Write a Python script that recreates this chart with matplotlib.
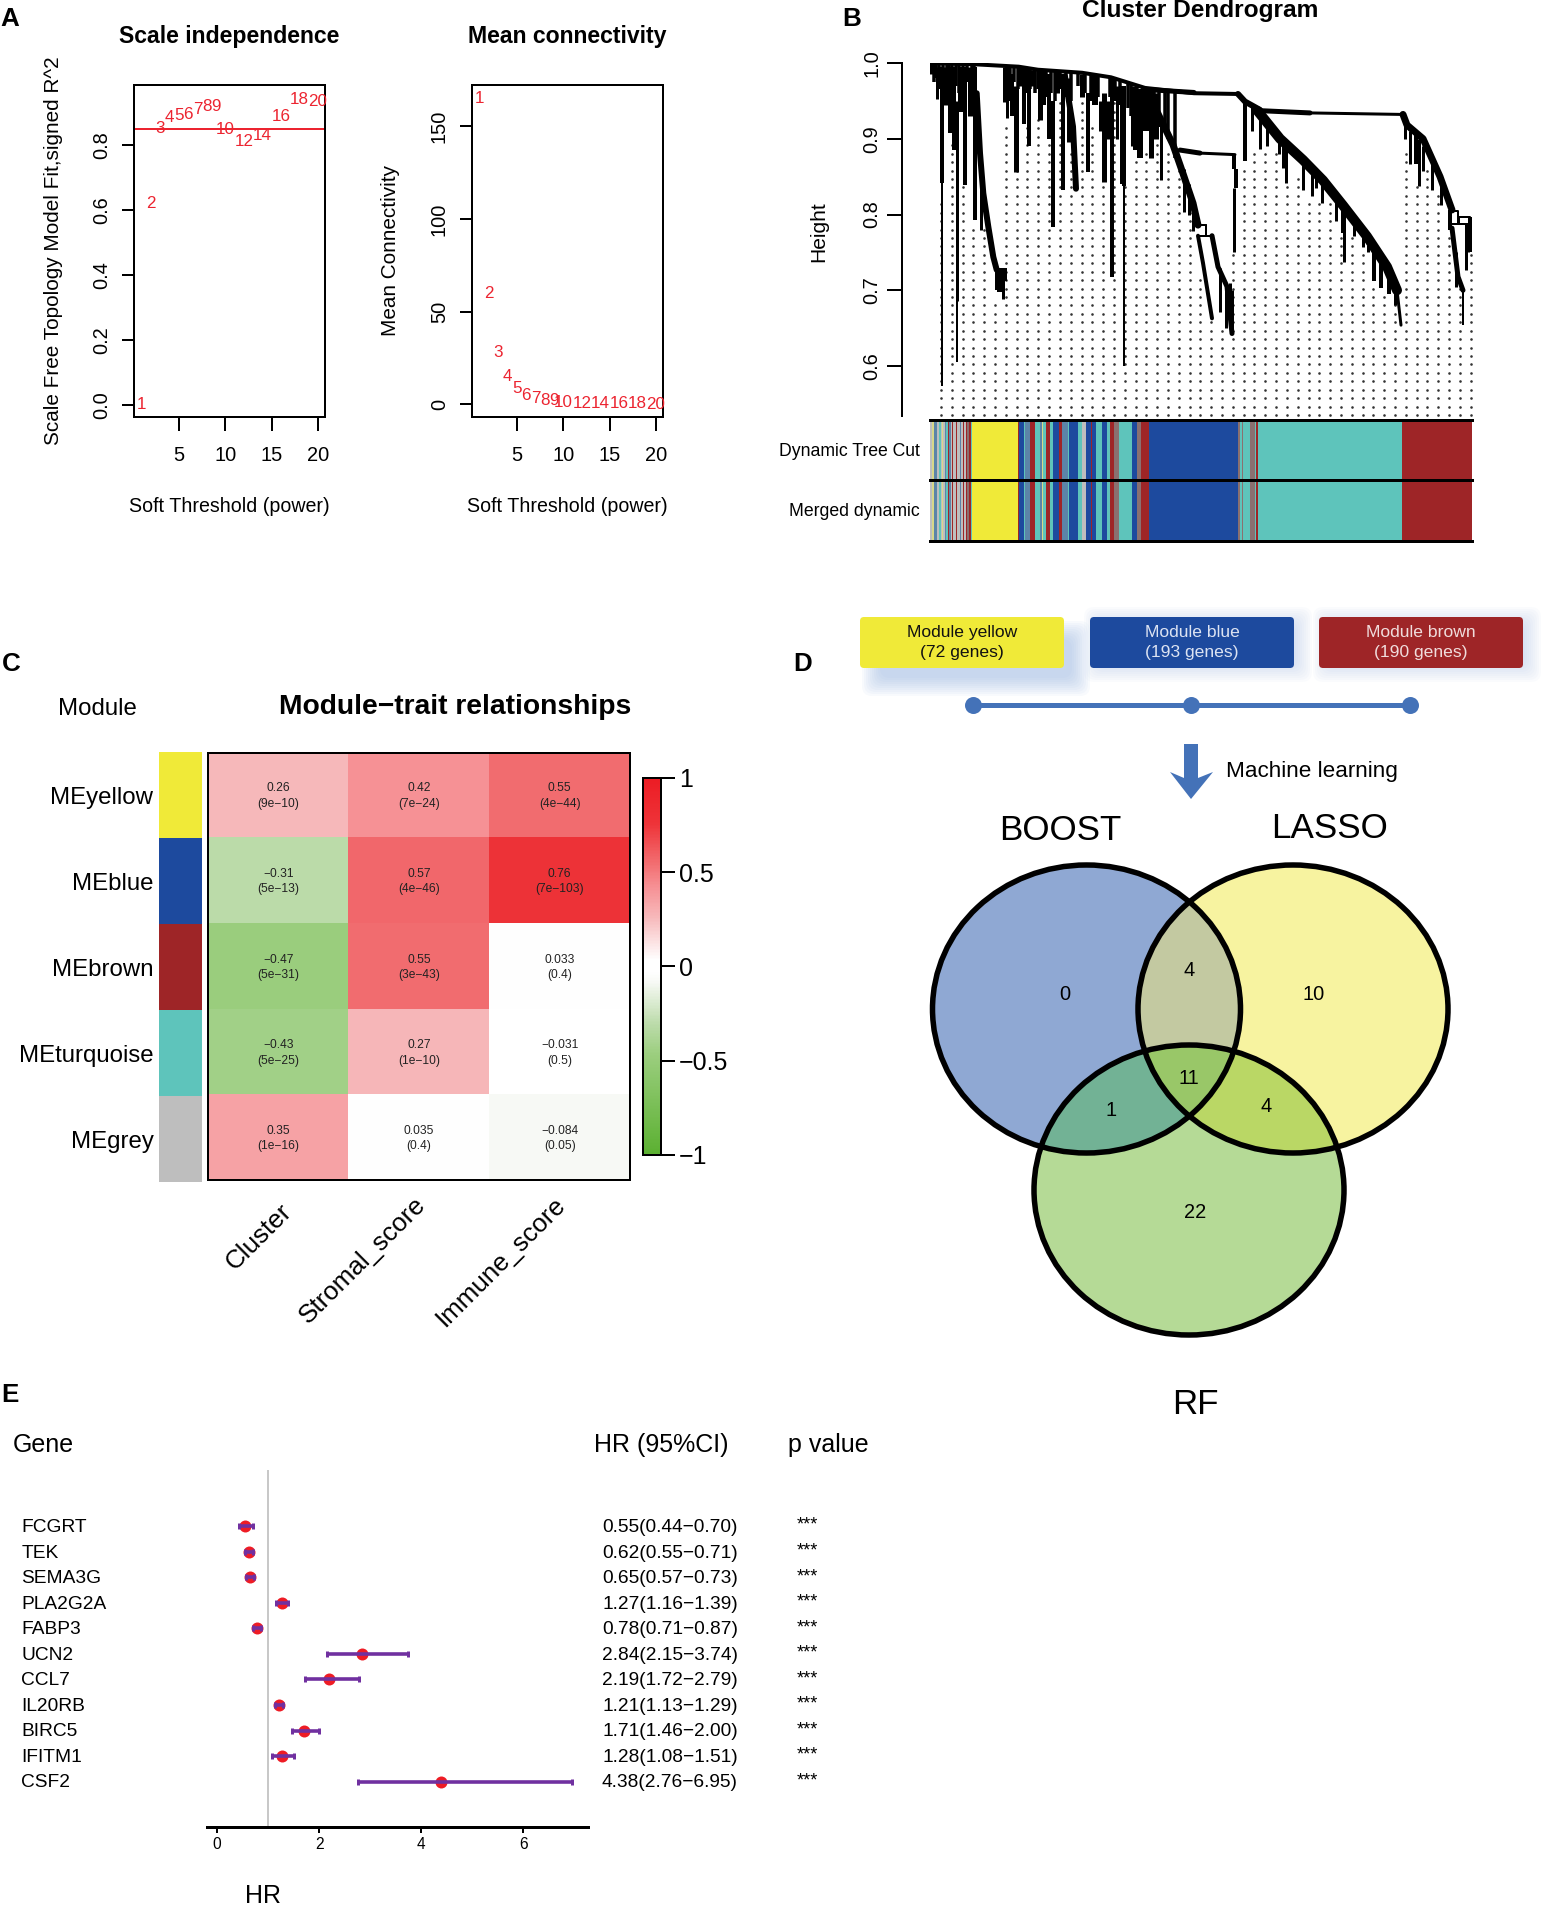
import numpy as np
import matplotlib
matplotlib.use("Agg")
import matplotlib.pyplot as plt
from matplotlib.cm import ScalarMappable
from matplotlib.colors import LinearSegmentedColormap, ListedColormap, Normalize
from matplotlib.patches import Ellipse, FancyBboxPatch, Polygon
from matplotlib.transforms import blended_transform_factory

plt.rcParams['font.family'] = ['Liberation Sans', 'DejaVu Sans']

W, H = 1544, 1905
PX = 0.72  # one pixel in points at dpi 100

YELLOW, BLUE, BROWN, TURQ, GREY = '#F0EA38', '#1D4A9E', '#9E2527', '#5EC4BB', '#BEBEBE'
RED = '#EC2430'

# panel A
powers = [1, 2, 3, 4, 5, 6, 7, 8, 9, 10, 12, 14, 16, 18, 20]
fit_r2 = [0.0, 0.62, 0.85, 0.885, 0.89, 0.893, 0.91, 0.917, 0.917, 0.848, 0.81, 0.83, 0.887, 0.94, 0.933]
mean_conn = [165, 59.5, 27.7, 14.9, 8.7, 5, 3.3, 2.2, 1.9, 0.9, 0.6, 0.4, 0.3, 0.2, 0.1]

# panel B, x is leaf position, h is merge height
backbone_x = [0, 47, 88.7, 108, 152, 181, 215, 264, 308]
backbone_h = [1.0, 0.998, 0.995, 0.991, 0.987, 0.981, 0.967, 0.960, 0.959]
# short merges packed under the top of the tree
comb_x = [1, 4, 6, 9, 13, 17, 19, 22, 26, 29, 33, 37, 42, 44, 77, 80, 84, 88, 92, 96, 100, 105, 108, 116,
          121, 125, 130, 136, 141, 148, 155, 161, 168, 180, 185, 190, 198, 201, 207, 213, 219, 224, 229, 235, 238, 245]
comb_h = [0.985, 0.975, 0.98, 0.965, 0.972, 0.96, 0.975, 0.955, 0.97, 0.96, 0.965, 0.975, 0.96, 0.97,
          0.96, 0.955, 0.975, 0.965, 0.97, 0.96, 0.965, 0.96, 0.965, 0.955, 0.96, 0.95, 0.965, 0.955, 0.95, 0.97,
          0.96, 0.95, 0.955, 0.955, 0.95, 0.945, 0.94, 0.93, 0.925, 0.92, 0.93, 0.92, 0.915, 0.915, 0.90, 0.875]
# x, top, bottom, width in pixels
drops = [
    (3, 0.999, 0.985, 7), (7.3, 0.995, 0.953, 3), (11.7, 0.995, 0.841, 4), (11.7, 0.841, 0.574, 2),
    (15, 0.995, 0.945, 5), (20, 0.995, 0.907, 4), (24, 0.995, 0.885, 4), (27.3, 0.95, 0.686, 3),
    (27.3, 0.686, 0.606, 2), (31, 0.995, 0.935, 6), (35, 0.995, 0.839, 4), (40, 0.995, 0.93, 5),
    (45, 0.995, 0.793, 4), (51, 0.85, 0.779, 3), (67, 0.727, 0.70, 4), (70, 0.73, 0.698, 6),
    (72, 0.73, 0.716, 4), (73, 0.725, 0.689, 3), (75, 0.995, 0.948, 5), (75, 0.73, 0.712, 4),
    (76.7, 0.995, 0.927, 3), (78, 0.995, 0.95, 6), (82, 0.985, 0.93, 4), (85.7, 0.97, 0.856, 5),
    (90, 0.995, 0.97, 5), (94, 0.995, 0.919, 4), (98.7, 0.99, 0.89, 4), (103, 0.99, 0.97, 5),
    (110, 0.99, 0.925, 5), (113, 0.99, 0.945, 6), (119, 0.985, 0.90, 4), (123, 0.95, 0.784, 4),
    (127, 0.99, 0.96, 5), (133, 0.985, 0.832, 4), (139, 0.98, 0.895, 5), (152, 0.985, 0.955, 5),
    (158, 0.96, 0.856, 4), (165, 0.985, 0.945, 6), (172, 0.95, 0.91, 7), (174, 0.96, 0.843, 5),
    (177, 0.95, 0.90, 5), (182, 0.98, 0.717, 4), (187, 0.97, 0.90, 3), (192, 0.97, 0.84, 4),
    (194, 0.97, 0.838, 4), (194, 0.838, 0.60, 2), (203, 0.97, 0.89, 5), (205, 0.95, 0.885, 4),
    (210, 0.965, 0.875, 6), (217, 0.965, 0.91, 8), (221, 0.965, 0.875, 5), (226, 0.96, 0.90, 5),
    (231, 0.93, 0.846, 3), (254, 0.86, 0.803, 3), (259, 0.84, 0.80, 3), (263, 0.82, 0.778, 3),
    (290, 0.73, 0.672, 3), (296, 0.71, 0.65, 3), (300, 0.71, 0.66, 3), (302, 0.70, 0.643, 3),
    (304, 0.879, 0.86, 4), (306, 0.86, 0.835, 4), (304, 0.835, 0.75, 3),
    (315, 0.95, 0.87, 4), (322, 0.945, 0.91, 3), (330, 0.93, 0.886, 3), (337, 0.92, 0.89, 3),
    (349, 0.90, 0.88, 3), (353, 0.895, 0.862, 3), (356, 0.89, 0.842, 3), (373, 0.87, 0.832, 3),
    (382, 0.855, 0.824, 3), (386, 0.85, 0.835, 3), (392, 0.84, 0.815, 3), (406, 0.82, 0.791, 3),
    (413, 0.81, 0.775, 4), (414, 0.81, 0.737, 3), (424, 0.79, 0.772, 3), (433, 0.77, 0.757, 3),
    (438, 0.76, 0.75, 3), (444, 0.76, 0.712, 4), (451, 0.74, 0.703, 4), (459, 0.73, 0.695, 4),
    (465, 0.71, 0.68, 3), (475, 0.93, 0.90, 3), (480, 0.91, 0.866, 3), (486, 0.91, 0.866, 4),
    (489, 0.90, 0.838, 3), (493, 0.89, 0.858, 3), (502, 0.87, 0.832, 3), (511, 0.84, 0.812, 3),
    (520, 0.806, 0.78, 4), (526, 0.75, 0.705, 3), (533, 0.70, 0.654, 2), (528, 0.804, 0.787, 2),
    (529, 0.797, 0.787, 2), (538, 0.787, 0.75, 3), (540, 0.797, 0.75, 4), (536, 0.787, 0.727, 3),
]
# x list, h list, width in pixels
branches = [
    ([46.7, 50, 53.3, 58.3, 63.3, 66.7], [0.96, 0.881, 0.828, 0.784, 0.744, 0.727], 6),
    ([135, 143, 146], [0.982, 0.916, 0.834], 6),
    ([215, 228, 243, 253, 263, 268], [0.964, 0.933, 0.892, 0.854, 0.815, 0.786], 7),
    ([268, 273, 282], [0.772, 0.736, 0.663], 4),
    ([282, 288, 297, 302], [0.772, 0.731, 0.705, 0.643], 5),
    ([266, 276], [0.786, 0.786], 2), ([268, 282], [0.772, 0.772], 2), ([276, 276], [0.786, 0.772], 2),
    ([250, 270], [0.885, 0.881], 5), ([270, 305], [0.881, 0.879], 3),
    ([215, 264], [0.965, 0.961], 5),
    ([308, 315, 330], [0.959, 0.949, 0.938], 6),
    ([330, 380], [0.937, 0.934], 5), ([380, 473], [0.934, 0.932], 3),
    ([328, 350, 373, 393, 413, 437, 457, 467], [0.936, 0.90, 0.872, 0.845, 0.812, 0.771, 0.731, 0.70], 10),
    ([467, 471], [0.70, 0.654], 3),
    ([473, 477, 493, 510, 522], [0.932, 0.918, 0.90, 0.85, 0.806], 7),
    ([522, 528], [0.804, 0.804], 2), ([528, 540], [0.797, 0.797], 2), ([522, 538], [0.787, 0.787], 2),
    ([522, 528, 533], [0.782, 0.718, 0.70], 5),
]
dot_tops = [0.823, 0.892, 0.837, 0.782, 0.784, 0.683, 0.914, 0.914, 0.914, 0.925, 0.900, 0.947, 0.89,
            0.947, 0.914, 0.84, 0.947, 0.84, 0.870, 0.889, 0.911, 0.889, 0.872, 0.812, 0.72, 0.66,
            0.652, 0.749, 0.868, 0.881, 0.889, 0.881, 0.841, 0.848, 0.823, 0.823, 0.815, 0.771,
            0.771, 0.757, 0.713, 0.700, 0.691, 0.881, 0.837, 0.859, 0.826, 0.780, 0.705, 0.749]
SLATE, PALE, MAUVE = '#5C84A8', '#D8D88A', '#8A7070'
strip_colors = [GREY, PALE, SLATE, GREY, TURQ, GREY, PALE, GREY, SLATE, TURQ, BROWN, SLATE, GREY, BROWN,
                GREY, BROWN, GREY, SLATE, GREY, BROWN, GREY, BROWN, MAUVE, BROWN, TURQ,
                YELLOW, BROWN, BLUE, TURQ, SLATE, BROWN, TURQ, SLATE, PALE, TURQ, BROWN, TURQ, BLUE,
                BROWN, SLATE, TURQ, BLUE, TURQ, GREY, BLUE, BROWN, BLUE, TURQ, BLUE, TURQ, BROWN, MAUVE,
                TURQ, BLUE, MAUVE, BROWN,
                BLUE, MAUVE, TURQ, MAUVE, TURQ, MAUVE, TURQ, BROWN, TURQ, BROWN]
strip_widths = [2, 2, 3, 2, 1.5, 1.5, 1, 1.5, 1.5, 2, 1, 1.5, 1.5, 1, 2.5, 1.5, 2.5, 1.5, 2, 1, 1.5, 1.5, 1.5, 2, 1,
                46, 1.5, 4.5, 1.5, 5, 4.5, 5.5, 1.5, 1.5, 3, 4, 2.5, 6.5, 2.5, 6, 1.5, 9, 4, 4, 4.5, 1.5,
                3.5, 6.5, 5, 2.5, 4.5, 5, 13, 4.5, 4, 8,
                89, 2, 2.7, 0.8, 7, 5, 1.3, 1.7, 143.7, 71.7]

# panel C
modules = ['MEyellow', 'MEblue', 'MEbrown', 'MEturquoise', 'MEgrey']
module_colors = [YELLOW, BLUE, BROWN, TURQ, GREY]
traits = ['Cluster', 'Stromal_score', 'Immune_score']
trait_cor = [[0.26, 0.42, 0.55], [-0.31, 0.57, 0.76], [-0.47, 0.55, 0.033],
             [-0.43, 0.27, -0.031], [0.35, 0.035, -0.084]]
cell_cor = [['0.26', '0.42', '0.55'], ['−0.31', '0.57', '0.76'], ['−0.47', '0.55', '0.033'],
            ['−0.43', '0.27', '−0.031'], ['0.35', '0.035', '−0.084']]
cell_p = [['(9e−10)', '(7e−24)', '(4e−44)'], ['(5e−13)', '(4e−46)', '(7e−103)'],
          ['(5e−31)', '(3e−43)', '(0.4)'], ['(5e−25)', '(1e−10)', '(0.5)'],
          ['(1e−16)', '(0.4)', '(0.05)']]
cbar_ticks = [1, 0.5, 0, -0.5, -1]
cbar_labels = ['1', '0.5', '0', '−0.5', '−1']

# panel D
module_boxes = ['Module yellow\n(72 genes)', 'Module blue\n(193 genes)', 'Module brown\n(190 genes)']
venn_names = ['BOOST', 'LASSO', 'RF']
venn_counts = ['0', '4', '10', '1', '11', '4', '22']

# panel E
genes = ['FCGRT', 'TEK', 'SEMA3G', 'PLA2G2A', 'FABP3', 'UCN2', 'CCL7', 'IL20RB', 'BIRC5', 'IFITM1', 'CSF2']
hr = np.array([0.55, 0.62, 0.65, 1.27, 0.78, 2.84, 2.19, 1.21, 1.71, 1.28, 4.38])
hr_low = np.array([0.44, 0.55, 0.57, 1.16, 0.71, 2.15, 1.72, 1.13, 1.46, 1.08, 2.76])
hr_high = np.array([0.70, 0.71, 0.73, 1.39, 0.87, 3.74, 2.79, 1.29, 2.00, 1.51, 6.95])

fig = plt.figure(figsize=(W / 100, H / 100), dpi=100)


def px_axes(x0, y0, x1, y1):
    return fig.add_axes([x0 / W, 1 - y1 / H, (x1 - x0) / W, (y1 - y0) / H])


def fs(px):
    return px * PX


page = fig.add_axes([0, 0, 1, 1], zorder=5)
page.patch.set_alpha(0)
page.axis('off')


def label(x, y, s, size, **kw):
    kw.setdefault('ha', 'center')
    kw.setdefault('va', 'center')
    page.text(x, y, s, fontsize=fs(size), **kw)


for s, x, y in [('A', 10, 19), ('B', 852, 19), ('C', 11, 664), ('D', 803, 664), ('E', 10, 1395)]:
    label(x, y, s, 26, fontweight='bold')


# A
def r_axes(x0, x1, xlim, ylim, yticks, yticklabels, values, title, ylab, ylab_x):
    ax = px_axes(x0, 85.4, x1, 416.7)
    ax.set_xlim(*xlim)
    ax.set_ylim(*ylim)
    for sp in ax.spines.values():
        sp.set_linewidth(2 * PX)
    ax.set_xticks([5, 10, 15, 20])
    ax.set_yticks(yticks)
    ax.set_yticklabels(yticklabels, rotation=90, va='center')
    ax.tick_params(axis='x', length=14 * PX, width=2 * PX, labelsize=fs(20), pad=15 * PX)
    ax.tick_params(axis='y', length=12 * PX, width=2 * PX, labelsize=fs(20), pad=11 * PX)
    for p, v in zip(powers, values):
        ax.text(p, v, str(p), color=RED, fontsize=fs(17), ha='center', va='center', clip_on=False)
    label((x0 + x1) / 2, 37, title, 23, fontweight='bold')
    label((x0 + x1) / 2, 506, 'Soft Threshold (power)', 19.6)
    label(ylab_x, 251, ylab, 20.8, rotation=90)
    return ax


ax = r_axes(134, 325, (0.15, 20.75), (-0.037, 0.983), [0, 0.2, 0.4, 0.6, 0.8],
            ['0.0', '0.2', '0.4', '0.6', '0.8'], fit_r2, 'Scale independence',
            'Scale Free Topology Model Fit,signed R^2', 54)
ax.axhline(0.85, color=RED, lw=2 * PX)
r_axes(472, 663, (0.15, 20.75), (-6.7, 172), [0, 50, 100, 150], ['0', '50', '100', '150'], mean_conn,
       'Mean connectivity', 'Mean Connectivity', 391)

# B
label(1200.6, 11, 'Cluster Dendrogram', 24.5, fontweight='bold')
label(819, 232, 'Height', 21, rotation=90)
ax = px_axes(930, 62.9, 1472, 416)
ax.set_xlim(0, 542)
ax.set_ylim(1 - (416 - 62.9) / 758, 1.0)
ax.patch.set_alpha(0)
for sp in ['top', 'right', 'bottom']:
    ax.spines[sp].set_visible(False)
ax.spines['left'].set_position(('outward', 930 - 909.6))
ax.spines['left'].set_linewidth(2 * PX)
ax.set_xticks([])
ax.set_yticks([0.6, 0.7, 0.8, 0.9, 1.0])
ax.set_yticklabels(['0.6', '0.7', '0.8', '0.9', '1.0'], rotation=90, va='center')
ax.tick_params(axis='y', length=15 * PX, width=2 * PX, labelsize=fs(20), pad=5 * PX)

row_step = 8.43 / 758
for k, top in enumerate(dot_tops):
    rows = np.arange(1 - (415 - 62.9) / 758, top, row_step)
    ax.plot(np.full(len(rows), 11 + 10.81 * k), rows, ls='none', marker='o', ms=2.6 * PX, color='#333333', mew=0)
# nothing hangs above the backbone
for x, h in zip(comb_x, comb_h):
    ax.plot([x, x], [np.interp(x, backbone_x, backbone_h), h], color='black', lw=3.5 * PX, solid_capstyle='butt')
for x, top, bottom, w in drops:
    if x < 215:
        top = min(top, np.interp(x, backbone_x, backbone_h))
    ax.plot([x, x], [top, bottom], color='black', lw=w * PX, solid_capstyle='butt')
ax.plot(backbone_x, backbone_h, color='black', lw=4 * PX)
for xs, hs, w in branches:
    ax.plot(xs, hs, color='black', lw=w * PX, solid_joinstyle='round', solid_capstyle='round')

strip = px_axes(930, 419.6, 1472, 541)
strip.set_xlim(0, 542)
strip.set_ylim(2, 0)
strip.axis('off')
lefts = np.concatenate([[0], np.cumsum(strip_widths)[:-1]])
for row in [0, 1]:
    strip.bar(lefts, 1, width=strip_widths, bottom=row, align='edge', color=strip_colors, lw=0)
for y in [0, 1, 2]:
    strip.axhline(y, color='black', lw=3 * PX, clip_on=False)
label(920, 452, 'Dynamic Tree Cut', 17.6, ha='right')
label(920, 512, 'Merged dynamic', 17.6, ha='right')

# C
label(97, 709, 'Module', 24)
label(455.6, 707.5, 'Module−trait relationships', 28.3, fontweight='bold')
cor_cmap = LinearSegmentedColormap.from_list('gwr', [
    (0, '#5BB031'), (0.265, '#9BCE7E'), (0.345, '#BBDBA9'), (0.458, '#F7F9F5'), (0.485, '#FFFFFF'),
    (0.5175, '#FFFFFF'), (0.63, '#F7B9BB'), (0.71, '#F69195'), (0.775, '#F26D70'), (0.88, '#EE3338'),
    (1, '#EC1C24')])
norm = Normalize(-1, 1)
ax = px_axes(208, 752.5, 630, 1180.4)
ax.imshow(trait_cor, cmap=cor_cmap, norm=norm, aspect='auto')
ax.set_xticks([])
ax.set_yticks([])
for sp in ax.spines.values():
    sp.set_linewidth(2 * PX)
for i in range(len(modules)):
    for j in range(len(traits)):
        ax.text(j, i - 0.08, cell_cor[i][j], fontsize=fs(12), ha='center', va='center', color='#222222')
        ax.text(j, i + 0.10, cell_p[i][j], fontsize=fs(12), ha='center', va='center', color='#222222')

side = px_axes(159, 751.6, 202, 1182)
side.barh(range(5), 1, height=1, color=module_colors, lw=0)
side.set_xlim(0, 1)
side.set_ylim(4.5, -0.5)
side.axis('off')
for i, name in enumerate(modules):
    side.text(-0.13, i + 0.035, name, fontsize=fs(24), ha='right', va='center')
for name, x, y in zip(traits, [279.5, 413.5, 553.5], [1199, 1192, 1192]):
    label(x, y, name, 26, rotation=45, ha='right', va='top', rotation_mode='anchor')

cax = px_axes(643, 777.7, 661, 1155)
cb = fig.colorbar(ScalarMappable(norm=norm, cmap=cor_cmap), cax=cax)
cb.set_ticks(cbar_ticks)
cb.set_ticklabels(cbar_labels)
cb.outline.set_linewidth(2 * PX)
cax.tick_params(length=14 * PX, width=2 * PX, labelsize=fs(25), pad=4 * PX)

# D
page.set_xlim(0, W)
page.set_ylim(H, 0)
back = fig.add_axes([0, 0, 1, 1], zorder=0)
back.set_xlim(0, W)
back.set_ylim(H, 0)
back.axis('off')
box_left = [860, 1090, 1319]
box_fill = [YELLOW, BLUE, BROWN]
box_text = ['#111111', '#DCE3F2', '#F0DCDC']
shadow_dx = [14, 6, 6]
shadow_dy = [16, 2, 2]
shadow_alpha = [0.06, 0.04, 0.04]
for x, c, tc, s, dx, dy, a in zip(box_left, box_fill, box_text, module_boxes, shadow_dx, shadow_dy, shadow_alpha):
    for grow in range(12, -8, -2):
        back.add_patch(FancyBboxPatch((x + dx - grow, 617 + dy - grow), 204 + 2 * grow, 51 + 2 * grow,
                                      boxstyle='round,pad=0,rounding_size=10', fc='#8FAEE0', ec='none', alpha=a))
    back.add_patch(FancyBboxPatch((x, 617), 204, 51, boxstyle='round,pad=0,rounding_size=4', fc=c, ec='none'))
    back.text(x + 102, 642.5, s, color=tc, fontsize=fs(17.5), ha='center', va='center', linespacing=1.45)

link_x = [972.5, 1191, 1410]
back.plot(link_x, [704.6] * 3, color='#4472B8', lw=5 * PX, marker='o', ms=17 * PX, mew=0)
back.add_patch(Polygon([(1184, 744), (1198, 744), (1198, 778), (1213, 772), (1191, 799), (1170, 772), (1184, 778)],
                       fc='#4472B8', ec='none'))
back.text(1226, 771, 'Machine learning', fontsize=fs(22.5), ha='left', va='center')

venn_centers = [(1086.5, 1009), (1293, 1009), (1189, 1190)]
venn_radii = [(154, 144), (155, 144), (155, 145)]
region_colors = ['#8FA8D3', '#F7F3A0', '#C3C9A1', '#B5DA96', '#72B295', '#BAD765', '#99C768']
gx, gy = np.meshgrid(np.arange(920, 1460), np.arange(855, 1345))
code = np.zeros(gx.shape, dtype=int)
for bit, ((cx, cy), (rx, ry)) in enumerate(zip(venn_centers, venn_radii)):
    code += (((gx - cx) / rx) ** 2 + ((gy - cy) / ry) ** 2 <= 1).astype(int) << bit
back.imshow(np.ma.masked_equal(code, 0), cmap=ListedColormap(region_colors), vmin=1, vmax=7,
            extent=(920, 1460, 1345, 855), aspect='auto', interpolation='nearest')
back.set_xlim(0, W)
back.set_ylim(H, 0)
for (cx, cy), (rx, ry) in zip(venn_centers, venn_radii):
    back.add_patch(Ellipse((cx, cy), 2 * rx, 2 * ry, fc='none', ec='black', lw=5.5 * PX))
for s, x, y in zip(venn_names, [1060, 1329, 1195], [830, 828, 1404]):
    back.text(x, y, s, fontsize=fs(35), ha='center', va='center')
count_x = [1065, 1189, 1314, 1111, 1189, 1266, 1195]
count_y = [995, 970, 995, 1110, 1079, 1106, 1212]
for s, x, y in zip(venn_counts, count_x, count_y):
    back.text(x, y, s, fontsize=fs(20), ha='center', va='center')

# E
label(12.6, 1445, 'Gene', 25, ha='left')
label(594, 1445, 'HR (95%CI)', 25, ha='left')
label(788, 1445, 'p value', 25, ha='left')
ax = px_axes(207, 1470, 588, 1827.3)
ax.set_xlim(-0.196, 7.27)
ax.set_ylim(11.79, -2.2)
ax.patch.set_alpha(0)
for sp in ['top', 'right', 'left']:
    ax.spines[sp].set_visible(False)
ax.spines['bottom'].set_linewidth(3 * PX)
ax.set_yticks([])
ax.set_xticks([0, 2, 4, 6])
ax.tick_params(axis='x', length=6 * PX, width=2 * PX, labelsize=fs(15.5), pad=4 * PX)
ax.axvline(1, color='#C8C8C8', lw=2 * PX, zorder=1)
rows = np.arange(len(genes))
ax.plot(hr, rows, ls='none', marker='o', ms=12 * PX, mew=0, color='#EE1C25', zorder=2)
ax.errorbar(hr, rows, xerr=[hr - hr_low, hr_high - hr], fmt='none', ecolor='#7030A0', elinewidth=3.6 * PX,
            capsize=3 * PX, capthick=3 * PX, zorder=3)
label(263, 1896, 'HR', 25)
tr = blended_transform_factory(page.transData, ax.transData)
for i, g in enumerate(genes):
    ax.text(21.5, i + 0.05, g, transform=tr, fontsize=fs(19.2), ha='left', va='center', clip_on=False)
    txt = f'{hr[i]:.2f}({hr_low[i]:.2f}−{hr_high[i]:.2f})'
    ax.text(602, i + 0.05, txt, transform=tr, fontsize=fs(19.2), ha='left', va='center', clip_on=False)
    ax.text(797, i - 0.03, '***', transform=tr, fontsize=fs(18), ha='left', va='center', clip_on=False)

fig.savefig('out.png', dpi=100)
